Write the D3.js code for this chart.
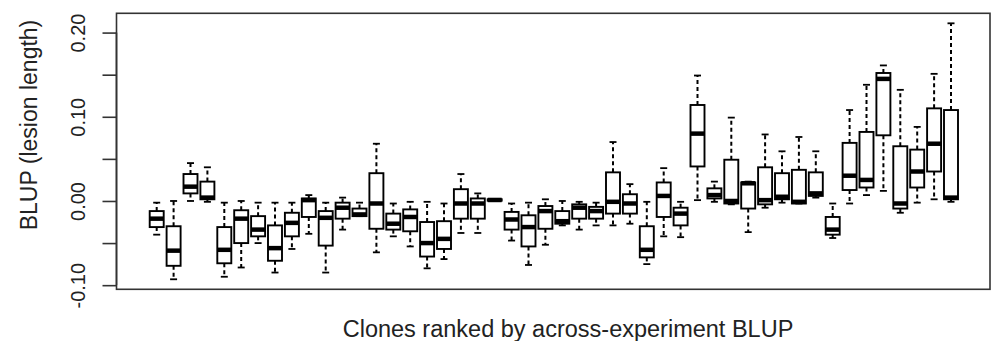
<!DOCTYPE html>
<html>
<head>
<meta charset="utf-8">
<script src="https://cdn.jsdelivr.net/npm/d3@7"></script>
<style>
  body { margin: 0; background: #fff; }
  svg { display: block; font-family: "Liberation Sans", Arial, sans-serif; }
</style>
</head>
<body>
<div id="chart"></div>
<script>
// box statistics per clone, ranked left to right
const lowerWhisker = [-0.040, -0.093, 0.000, -0.001, -0.090, -0.079, -0.050, -0.085, -0.057, -0.039, -0.085, -0.034,
  -0.018, -0.061, -0.042, -0.054, -0.080, -0.069, -0.038, -0.038, 0.000, -0.047, -0.076, -0.052,
  -0.029, -0.034, -0.029, -0.029, -0.027, -0.075, -0.042, -0.043, 0.001, -0.001, -0.004, -0.037,
  -0.008, -0.002, -0.003, 0.004, -0.044, -0.003, 0.007, 0.012, -0.014, -0.002, 0.002, -0.001];
const lowerHinge = [-0.031, -0.077, 0.009, 0.002, -0.074, -0.050, -0.042, -0.071, -0.042, -0.019, -0.053, -0.021,
  -0.018, -0.033, -0.034, -0.036, -0.066, -0.057, -0.021, -0.021, 0.0004, -0.034, -0.054, -0.033,
  -0.027, -0.021, -0.021, -0.015, -0.015, -0.067, -0.019, -0.029, 0.041, 0.003, -0.003, -0.009,
  -0.004, 0.002, -0.003, 0.006, -0.040, 0.013, 0.016, 0.078, -0.009, 0.016, 0.035, 0.002];
const medians = [-0.021, -0.059, 0.017, 0.004, -0.058, -0.021, -0.034, -0.056, -0.026, 0.001, -0.020, -0.008,
  -0.016, -0.003, -0.027, -0.019, -0.050, -0.045, -0.003, -0.003, 0.0012, -0.022, -0.031, -0.012,
  -0.024, -0.008, -0.012, -0.001, -0.003, -0.058, 0.006, -0.015, 0.080, 0.007, 0.000, 0.021,
  0.001, 0.005, -0.001, 0.009, -0.034, 0.030, 0.025, 0.145, -0.003, 0.035, 0.068, 0.004];
const upperHinge = [-0.012, -0.030, 0.032, 0.023, -0.031, -0.011, -0.018, -0.029, -0.014, 0.003, -0.012, -0.002,
  -0.009, 0.033, -0.015, -0.010, -0.025, -0.024, 0.014, 0.003, 0.002, -0.013, -0.017, -0.006,
  -0.012, -0.004, -0.007, 0.034, 0.008, -0.030, 0.022, -0.008, 0.114, 0.015, 0.049, 0.022,
  0.040, 0.033, 0.037, 0.034, -0.019, 0.069, 0.082, 0.152, 0.065, 0.061, 0.110, 0.108];
const upperWhisker = [-0.002, 0.000, 0.045, 0.040, -0.002, 0.000, -0.002, -0.002, -0.002, 0.007, -0.002, 0.004,
  -0.002, 0.068, -0.003, -0.001, -0.001, -0.003, 0.032, 0.009, 0.0024, -0.003, -0.002, 0.002,
  0.000, -0.001, -0.002, 0.070, 0.020, -0.001, 0.039, -0.001, 0.149, 0.023, 0.099, 0.023,
  0.079, 0.059, 0.076, 0.059, -0.003, 0.108, 0.138, 0.161, 0.132, 0.088, 0.151, 0.211];
const clones = d3.range(1, lowerWhisker.length + 1);

const yTicks = [-0.10, -0.05, 0.00, 0.05, 0.10, 0.15, 0.20];
const yTickLabels = ['-0.10', '', '0.00', '', '0.10', '', '0.20'];
const xTitle = 'Clones ranked by across-experiment BLUP';
const yTitle = 'BLUP (lesion length)';

const width = 991, height = 341;
const plot = { left: 116.5, right: 990, top: 13.3, bottom: 289.3 };
const boxWidth = 14;

const svg = d3.select('#chart').append('svg')
  .attr('width', width)
  .attr('height', height);

const x = d3.scaleLinear().domain([1, clones.length]).range([156.7, 951]);
const y = d3.scaleLinear().domain([-0.1049, 0.2229]).range([plot.bottom, plot.top]);

const boxes = clones.map((c, i) => ({
  clone: c,
  lo: lowerWhisker[i], q1: lowerHinge[i], med: medians[i], q3: upperHinge[i], hi: upperWhisker[i]
}));

const g = svg.append('g').attr('class', 'boxes');

const box = g.selectAll('.box')
  .data(boxes)
  .enter()
  .append('g')
  .attr('class', 'box');

// whiskers
box.append('line')
  .attr('x1', d => x(d.clone)).attr('x2', d => x(d.clone))
  .attr('y1', d => y(d.q3)).attr('y2', d => y(d.hi))
  .attr('stroke', '#000').attr('stroke-width', 2).attr('stroke-dasharray', '4,3');
box.append('line')
  .attr('x1', d => x(d.clone)).attr('x2', d => x(d.clone))
  .attr('y1', d => y(d.q1)).attr('y2', d => y(d.lo))
  .attr('stroke', '#000').attr('stroke-width', 2).attr('stroke-dasharray', '4,3');

// staples
box.append('line')
  .attr('x1', d => x(d.clone) - boxWidth / 4).attr('x2', d => x(d.clone) + boxWidth / 4)
  .attr('y1', d => y(d.hi)).attr('y2', d => y(d.hi))
  .attr('stroke', '#000').attr('stroke-width', 1.8);
box.append('line')
  .attr('x1', d => x(d.clone) - boxWidth / 4).attr('x2', d => x(d.clone) + boxWidth / 4)
  .attr('y1', d => y(d.lo)).attr('y2', d => y(d.lo))
  .attr('stroke', '#000').attr('stroke-width', 1.8);

box.append('rect')
  .attr('x', d => x(d.clone) - boxWidth / 2)
  .attr('y', d => y(d.q3))
  .attr('width', boxWidth)
  .attr('height', d => Math.max(0.5, y(d.q1) - y(d.q3)))
  .attr('fill', '#fff')
  .attr('stroke', '#000')
  .attr('stroke-width', 1.9);

box.append('line')
  .attr('x1', d => x(d.clone) - boxWidth / 2).attr('x2', d => x(d.clone) + boxWidth / 2)
  .attr('y1', d => y(d.med)).attr('y2', d => y(d.med))
  .attr('stroke', '#000').attr('stroke-width', 4.5);

// frame
svg.append('rect')
  .attr('x', plot.left).attr('y', plot.top)
  .attr('width', plot.right - plot.left)
  .attr('height', plot.bottom - plot.top)
  .attr('fill', 'none')
  .attr('stroke', '#333')
  .attr('stroke-width', 1.6);

// y axis, R style
const yAxis = d3.axisLeft(y)
  .tickValues(yTicks)
  .tickSize(14)
  .tickFormat((d, i) => yTickLabels[i]);
const ax = svg.append('g')
  .attr('class', 'axis axis-y')
  .attr('transform', `translate(${plot.left}, 0)`)
  .call(yAxis);
ax.select('.domain')
  .attr('d', `M0,${y(yTicks[0])}V${y(yTicks[yTicks.length - 1])}`)
  .attr('stroke', '#333').attr('stroke-width', 1.6);
ax.selectAll('.tick line').attr('stroke', '#333').attr('stroke-width', 1.6);
ax.selectAll('.tick text')
  .attr('x', null).attr('dy', null)
  .attr('transform', 'translate(-31.5,0) rotate(-90)')
  .attr('text-anchor', 'middle')
  .attr('font-size', 20)
  .attr('font-family', '"Liberation Sans", Arial, sans-serif')
  .attr('fill', '#222');

svg.append('text')
  .attr('transform', 'translate(37,125) rotate(-90)')
  .attr('text-anchor', 'middle')
  .attr('font-size', 23)
  .attr('fill', '#222')
  .text(yTitle);

svg.append('text')
  .attr('x', 568)
  .attr('y', 337)
  .attr('text-anchor', 'middle')
  .attr('font-size', 23.5)
  .attr('fill', '#222')
  .text(xTitle);
</script>
</body>
</html>
